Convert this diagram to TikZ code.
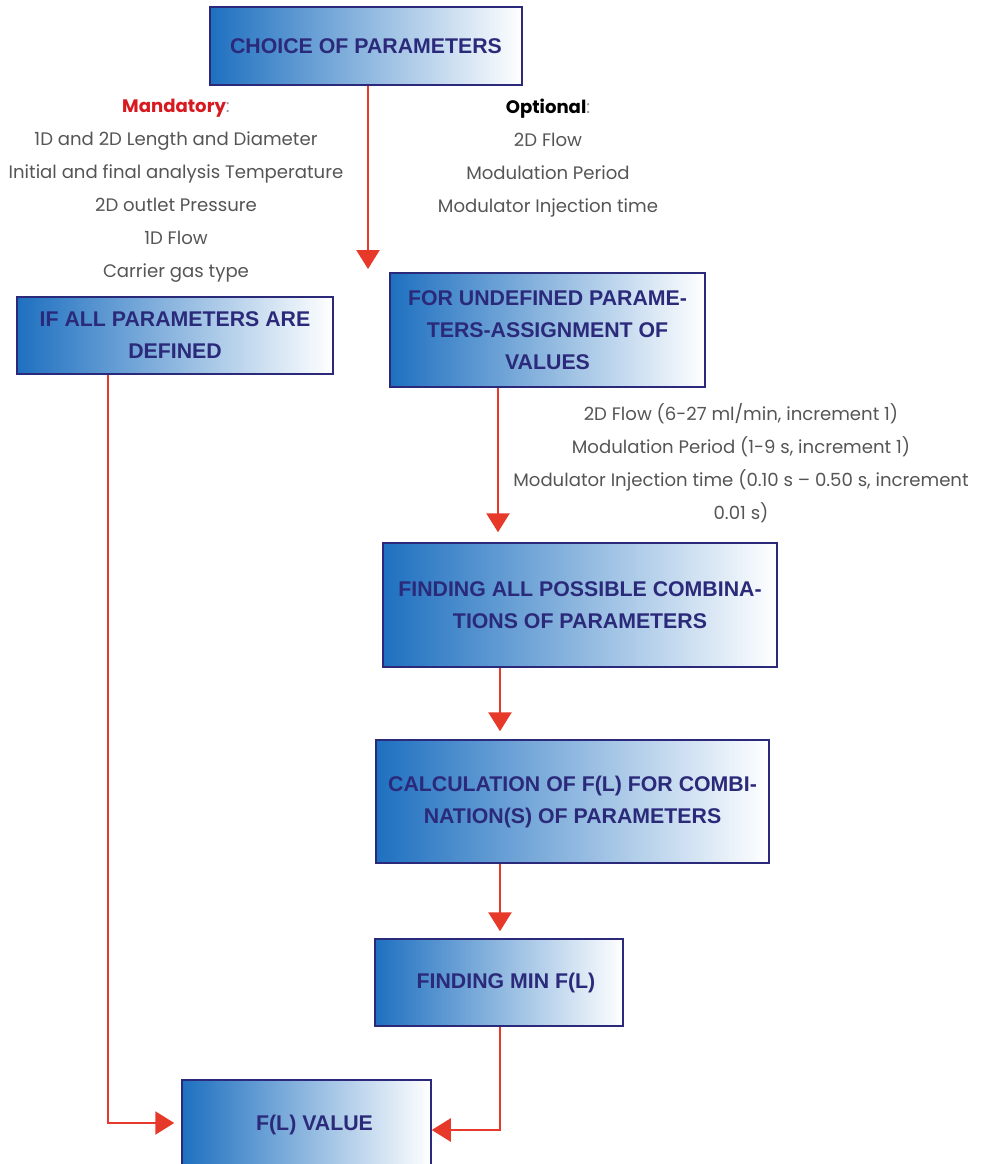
\documentclass[tikz,border=0pt]{standalone}
\usepackage{fontspec}
\setmainfont{Poppins}
\newfontfamily\boxfont{Liberation Sans}
\usetikzlibrary{arrows.meta,calc}
\definecolor{navy}{RGB}{43,42,122}
\definecolor{arrred}{RGB}{230,57,42}
\definecolor{boxblue}{RGB}{30,112,192}
\definecolor{txtgray}{RGB}{85,85,85}
\definecolor{mandred}{RGB}{215,25,32}
\definecolor{colgray}{RGB}{150,150,150}
\tikzset{
  flowbox/.style={draw=navy, line width=1.5pt, left color=boxblue, right color=white,
    font=\boxfont\bfseries\fontsize{21.3}{32}\selectfont, text=navy, align=center, inner sep=0pt},
  flow/.style={draw=arrred, line width=2.5pt, -{Triangle[length=19pt,width=23pt]}},
  note/.style={font=\fontsize{18.1}{33}\selectfont, text=txtgray, align=center, inner sep=0pt}
}
\begin{document}
\begin{tikzpicture}[x=1pt,y=-1pt]
\useasboundingbox (0,0) rectangle (980,1164);
\clip (0,0) rectangle (980,1164);
% boxes
\node[flowbox, minimum width=312pt, minimum height=78pt] (b1) at (366,46) {CHOICE OF PARAMETERS};
\node[flowbox, minimum width=316pt, minimum height=77pt] (b2) at (175,335.5) {IF ALL PARAMETERS ARE\\DEFINED};
\node[flowbox, minimum width=315pt, minimum height=114pt] (b3) at (547.5,330) {FOR UNDEFINED PARAME-\\TERS-ASSIGNMENT OF\\VALUES};
\node[flowbox, minimum width=394pt, minimum height=124pt] (b4) at (580,605) {FINDING ALL POSSIBLE COMBINA-\\TIONS OF PARAMETERS};
\node[flowbox, minimum width=393pt, minimum height=123pt] (b5) at (572.5,801.5) {CALCULATION OF F(L) FOR COMBI-\\NATION(S) OF PARAMETERS};
\node[flowbox, minimum width=248pt, minimum height=87pt] (b6) at (499,982.5) {\hspace*{14pt}FINDING MIN F(L)};
\node[flowbox, minimum width=249pt, minimum height=100pt, text depth=14pt] (b7) at (306.5,1130) {\hspace*{16pt}F(L) VALUE};
% notes
\node[note] (mand) at (176,191) {{\bfseries\color{mandred}Mandatory}{\color{colgray}:}\\1D and 2D Length and Diameter\\Initial and final analysis Temperature\\2D outlet Pressure\\1D Flow\\Carrier gas type};
\node[note] (opt) at (548,158) {{\bfseries\color{black}Optional}{\color{colgray}:}\\2D Flow\\Modulation Period\\Modulator Injection time};
\node[note] (ranges) at (741,463) {2D Flow (6-27 ml/min, increment 1)\\Modulation Period (1-9 s, increment 1)\\Modulator Injection time (0.10 s -- 0.50 s, increment\\0.01 s)};
% connectors
\coordinate (c1) at (368,269);
\coordinate (k1) at (108,1123);
\coordinate (k2) at (500,1130);
\draw[flow] (b1.south -| c1) -- (c1);
\draw[flow, shorten >=7pt] (b2.south -| k1) |- (b7.west |- k1);
\draw[flow, shorten >=10pt] (b3.south -| 498,0) -- (b4.north -| 498,0);
\draw[flow, shorten >=8pt] (b4.south -| 500,0) -- (b5.north -| 500,0);
\draw[flow, shorten >=7pt] (b5.south -| 500,0) -- (b6.north -| 500,0);
\draw[flow] (b6.south -| k2) |- (b7.east |- k2);
\end{tikzpicture}
\end{document}
